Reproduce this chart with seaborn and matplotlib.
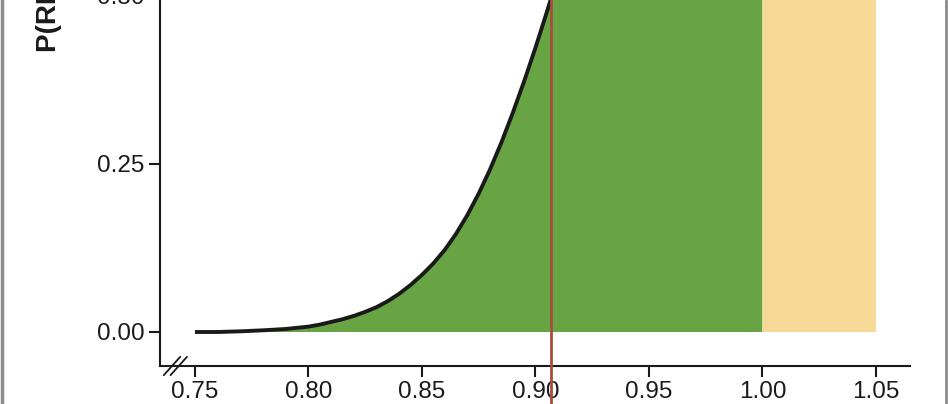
import matplotlib
matplotlib.use("Agg")
import matplotlib.pyplot as plt
from matplotlib.lines import Line2D
import seaborn as sns
import pandas as pd

# ---- data ----
rr = [0.750, 0.760, 0.770, 0.780, 0.790, 0.800, 0.805, 0.810, 0.815, 0.820,
      0.825, 0.830, 0.835, 0.840, 0.845, 0.850, 0.855, 0.860, 0.865, 0.870,
      0.875, 0.880, 0.885, 0.890, 0.895, 0.900, 0.905, 0.910, 0.920, 0.930,
      0.940, 0.950, 0.960, 0.970, 0.980, 0.990, 1.000, 1.010, 1.020, 1.030,
      1.040, 1.050]
prob = [0.000, 0.000, 0.001, 0.0025, 0.0045, 0.008, 0.011, 0.015, 0.019, 0.024,
        0.030, 0.037, 0.046, 0.057, 0.070, 0.085, 0.102, 0.122, 0.146, 0.174,
        0.206, 0.242, 0.282, 0.326, 0.373, 0.423, 0.476, 0.531, 0.630, 0.715,
        0.785, 0.840, 0.885, 0.922, 0.950, 0.968, 0.979, 0.987, 0.992, 0.995,
        0.997, 0.999]
median_rr = 0.907
threshold_rr = 1.00
x_ticks = [0.75, 0.80, 0.85, 0.90, 0.95, 1.00, 1.05]
y_ticks = [0.00, 0.25, 0.50, 0.75, 1.00]
y_label = "P(RR < x)"

df = pd.DataFrame({"rr": rr, "prob": prob})

sns.set_style("ticks")
plt.rcParams["font.family"] = ["Liberation Sans", "DejaVu Sans"]

W, H = 948, 404
fig = plt.figure(figsize=(W / 100, H / 100), dpi=100)
fig.patch.set_facecolor("white")

# axes: spine left at x=160px, right 910px; bottom at y=366px; ylim top=1.0 far above figure
left = 160 / W
width = 750 / W
bottom = 38 / H
height = 706 / H
ax = fig.add_axes([left, bottom, width, height])

green = "#68A443"
yellow = "#F6D994"
red = "#A3503B"

below = df[df["rr"] <= threshold_rr]
above = df[df["rr"] >= threshold_rr]
ax.fill_between(below["rr"], 0, below["prob"], color=green, lw=0, zorder=1)
ax.fill_between(above["rr"], 0, above["prob"], color=yellow, lw=0, zorder=1)

sns.lineplot(data=df, x="rr", y="prob", ax=ax, color="#1a1a1a", lw=2.8,
             zorder=3, solid_capstyle="butt")

ax.axvline(median_rr, ymin=-0.06, ymax=1.0, color=red, lw=2.0,
           clip_on=False, zorder=4)

ax.set_xlim(0.7346, 1.065)
ax.set_ylim(-0.0506, 1.0)
ax.set_xticks(x_ticks)
ax.set_xticklabels([f"{v:.2f}" for v in x_ticks])
ax.set_yticks(y_ticks)
ax.set_yticklabels([f"{v:.2f}" for v in y_ticks])
ax.tick_params(axis="both", length=8, width=1.5, labelsize=17.5, color="#1a1a1a",
               labelcolor="#1a1a1a", direction="out")
ax.tick_params(axis="x", pad=2.5)
ax.tick_params(axis="y", pad=3)
ax.set_xlabel("")
ax.set_ylabel(y_label, fontsize=20, fontweight="bold", color="#1a1a1a",
              loc="bottom")
ax.yaxis.set_label_coords(-98 / 750, (366 - 52) / 706)

for s in ["top", "right"]:
    ax.spines[s].set_visible(False)
for s in ["left", "bottom"]:
    ax.spines[s].set_linewidth(1.5)
    ax.spines[s].set_color("#1a1a1a")

# axis-break marks on the bottom-left
for dx in (0.0, 0.009):
    ax.plot([0.005 + dx, 0.027 + dx], [-0.013, 0.013], transform=ax.transAxes,
            color="#1a1a1a", lw=1.3, clip_on=False, zorder=5)

# grey frame lines at the figure edges
fig.add_artist(Line2D([1.5 / W, 1.5 / W], [0, 1], color="#8c8c8c", lw=2.5))
fig.add_artist(Line2D([945.5 / W, 945.5 / W], [0, 1], color="#8c8c8c", lw=2.0))

fig.savefig("out.png", dpi=100)
